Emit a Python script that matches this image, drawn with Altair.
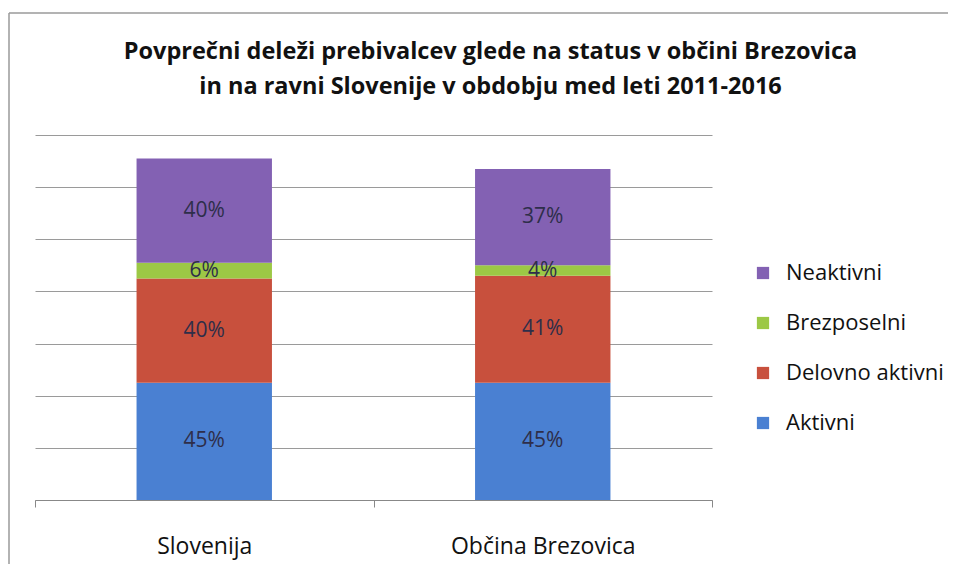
import altair as alt
import pandas as pd

regions = ["Slovenija", "Občina Brezovica"]
statuses = ["Aktivni", "Delovno aktivni", "Brezposelni", "Neaktivni"]
slovenija = [45, 40, 6, 40]
brezovica = [45, 41, 4, 37]
legend_order = ["Neaktivni", "Brezposelni", "Delovno aktivni", "Aktivni"]
colors = ["#8361b3", "#9cc845", "#c8503d", "#4a80d2"]
y_ticks = [0, 20, 40, 60, 80, 100, 120, 140]

rows = []
for reg, vals in zip(regions, [slovenija, brezovica]):
    for i, (s, v) in enumerate(zip(statuses, vals)):
        rows.append({"regija": reg, "status": s, "vrednost": v, "red": i,
                     "oznaka": f"{v}%"})
df = pd.DataFrame(rows)

FONT = "Open Sans"

base = alt.Chart(df).transform_stack(
    stack="vrednost", groupby=["regija"], sort=[alt.SortField("red", order="ascending")],
    as_=["y0", "y1"]
).transform_calculate(mid="(datum.y0 + datum.y1) / 2")

xenc = alt.X("regija:N", sort=regions, title=None,
             scale=alt.Scale(paddingInner=0, paddingOuter=0),
             axis=alt.Axis(tickBand="extent", labelAngle=0, labelFontSize=23,
                           labelFont=FONT, labelColor="#111", labelPadding=28,
                           labelLimit=0,
                           tickSize=7, tickColor="#888", domainColor="#888",
                           grid=False))

bars = base.mark_bar(width=alt.RelativeBandSize(0.4)).encode(
    x=xenc,
    y=alt.Y("y0:Q", scale=alt.Scale(domain=[0, 140]), title=None,
            axis=alt.Axis(values=y_ticks, labels=False, ticks=False, domain=False,
                          grid=True, gridColor="#9a9a9a", gridWidth=1)),
    y2="y1:Q",
    color=alt.Color("status:N", scale=alt.Scale(domain=legend_order, range=colors),
                    legend=alt.Legend(title=None, orient="none", legendX=717, legendY=127,
                                      symbolType="square", symbolSize=150,
                                      symbolStrokeWidth=0, labelFont=FONT,
                                      labelFontSize=22, labelColor="#111",
                                      rowPadding=28, labelOffset=12)),
)

labels = base.mark_text(font=FONT, fontSize=21, color="#2e2e4a").encode(
    x=alt.X("regija:N", sort=regions),
    y=alt.Y("mid:Q"),
    text="oznaka:N",
)

one = pd.DataFrame({"k": [0]})
frame_top = alt.Chart(one).mark_rule(stroke="#9a9a9a", strokeWidth=1.5).encode(
    x=alt.value(-26), x2=alt.value(1000), y=alt.value(-122))
frame_left = alt.Chart(one).mark_rule(stroke="#9a9a9a", strokeWidth=1.5).encode(
    x=alt.value(-26), y=alt.value(-122), y2=alt.value(480))

chart = alt.layer(bars, labels, frame_top, frame_left).properties(
    width=677, height=365,
    title=alt.TitleParams(
        ["Povprečni deleži prebivalcev glede na status v občini Brezovica",
         "in na ravni Slovenije v obdobju med leti 2011-2016"],
        font=FONT, fontSize=23.5, fontWeight="bold", color="#111",
        anchor="middle", dx=117, offset=-86, lineHeight=35),
    autosize=alt.AutoSizeParams(type="none"),
    padding={"left": 27, "top": 127, "right": 236, "bottom": 64},
).configure(background="white").configure_view(stroke=None)

chart.save("out.html", embed_options={"renderer": "svg", "actions": False})
